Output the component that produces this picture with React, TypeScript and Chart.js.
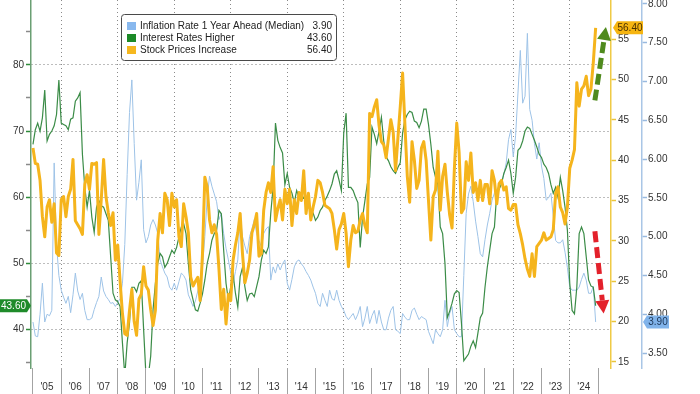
import React, { useEffect, useRef } from "react";
import { Chart, registerables } from "chart.js";

Chart.register(...registerables);

const START_YEAR = 2005;
const FONT = '"Liberation Sans", Arial, sans-serif';

const yearTicks = [2005, 2006, 2007, 2008, 2009, 2010, 2011, 2012, 2013, 2014, 2015, 2016, 2017, 2018, 2019, 2020, 2021, 2022, 2023, 2024, 2025];
const yearTickLabels = ["'05", "'06", "'07", "'08", "'09", "'10", "'11", "'12", "'13", "'14", "'15", "'16", "'17", "'18", "'19", "'20", "'21", "'22", "'23", "'24"];

const leftAxisTicks = [35, 40, 45, 50, 55, 60, 65, 70, 75, 80, 85];
const stockAxisTicks = [15, 20, 25, 30, 35, 40, 45, 50, 55];
const inflationAxisTicks = [3.5, 4, 4.5, 5, 5.5, 6, 6.5, 7, 7.5, 8];

// Monthly, Jan 2005 .. Dec 2024
const stockPricesIncrease = [
  41.5, 39.6, 39.5, 37.5, 33, 30.5, 34.2, 35.1, 32.3, 34.6, 28.5, 28.2,
  35.1, 35.5, 33, 35.5, 36.4, 40.1, 32.5, 32, 31.5, 30.8, 37, 38.2,
  36.4, 39.6, 39.5, 39.7, 30.8, 35.1, 40.1, 35.5, 33.5, 31.9, 33.5, 27.6,
  29.5, 25, 21, 18.5, 18.3, 21.4, 24, 20, 18.3, 22.8, 23.4, 26.8,
  24.4, 23.9, 21.5, 19.5, 21.4, 30.1, 33.4, 31, 35.9, 35.1, 31.9, 35.9,
  34.2, 35.1, 30.5, 29.3, 34.6, 33, 31, 25.5, 24.4, 25, 25.5, 22.6,
  28.4, 37.9, 36.7, 32.6, 31, 32, 30.8, 26.5, 21.5, 24, 19.7, 23.4,
  22.6, 27.6, 29.5, 31, 33.4, 28.4, 24.8, 26, 27.6, 31, 32, 33.4,
  28.1, 28.4, 33.8, 36, 37.2, 36, 39.2, 32.5, 34, 35.1, 32.6, 36.4,
  34.6, 36.4, 31.9, 35.1, 33.4, 36, 35, 38.7, 33.4, 35.9, 32.6, 34.2,
  35.5, 37.5, 37.2, 36, 34.4, 34.2, 34, 33.4, 31.4, 29, 31.4, 32.1,
  33.4, 31, 26.8, 30.1, 31.9, 31, 31.2, 32.6, 33.4, 31.9, 31, 45.8,
  45.4, 46.6, 47.5, 44.3, 42.3, 41.9, 40.3, 42.7, 45, 43.5, 38.7, 42.7,
  46.6, 50.8, 44.3, 38, 34.8, 42.3, 40, 36.5, 37.5, 41.5, 42.3, 40,
  35, 30.1, 35.5, 36.3, 41.1, 33.8, 38, 39.5, 36, 33.2, 31.6, 39,
  44.6, 41, 33.5, 34, 39.8, 37.5, 40.9, 36, 37.2, 35, 37.5, 35,
  37, 37, 34.6, 38.7, 37.5, 34.6, 37.1, 37.5, 36.3, 36.7, 34, 33.8,
  34.5, 34.5, 32, 30.9, 29.5, 27.8, 26.5, 25.6, 28.4, 25.6, 29.3, 29.7,
  30.1, 31, 30.1, 30.3, 30.5, 31.4, 35.9, 36.7, 34.2, 33.5, 32.1, 34.2,
  39, 40, 41.3, 49.6, 46.7, 48.8, 49.2, 50.4, 48, 48.8, 52.1, 56.4,
];

const interestRatesHigher = [
  68, 70.2, 71.2, 70, 72, 76.2, 68.5, 69.5, 70, 70.8, 72.5, 77.7,
  71.2, 71, 70.8, 70.2, 71.8, 72, 74.5, 75, 75.8, 66.5, 61.5, 58.5,
  61, 57, 54.7, 58.5, 59.5, 58.7, 58.5, 57.5, 56.5, 51, 45.5, 44.5,
  44.2, 43.5, 38, 33, 38, 41, 46.4, 46.4, 45.7, 47, 47.4, 40,
  33, 33, 36, 43, 47, 50, 51.5, 51, 49.4, 50, 51, 52,
  51.5, 52.4, 54, 55.5, 56, 54.5, 50, 46, 44.5, 43, 42.8, 44,
  45.4, 47.5, 50, 51.5, 53.5, 54.5, 55, 58, 57.5, 52, 47, 44.4,
  46.5, 48.4, 45.5, 43.4, 48, 49.4, 46.5, 44.4, 45.4, 45.5, 45, 46.5,
  48, 50.5, 52, 51.5, 52.5, 57.6, 61.5, 71.2, 68.6, 67.5, 66.7, 61.9,
  63.6, 61.5, 60.6, 59.2, 61, 60, 59.5, 60, 59.5, 58.5, 58, 57.6,
  56.5, 57, 58, 58.5, 59.5, 60.2, 61, 62, 63.5, 64, 62.6, 61,
  69.7, 72.7, 61.5, 61.5, 61, 60, 59.2, 52.4, 57, 59.5, 62, 63,
  70.6, 69.5, 68.1, 70, 72.1, 68.5, 66.1, 65.5, 64.6, 64, 63.6, 64.5,
  65.2, 69.7, 71.7, 72.5, 73, 72.8, 71.5, 71.3, 70.5, 71.5, 73.3, 73.3,
  71, 68, 64.5, 63, 61.9, 55.5, 54.5, 50, 41.8, 42.8, 44, 45.4,
  45.9, 45.6, 41, 35.3, 35.8, 36.3, 37.5, 38.3, 37.3, 39.5, 41.8, 42.5,
  46.4, 49.5, 52, 54.5, 55.5, 60.6, 61.2, 62, 63.6, 64.5, 65.6, 63.6,
  60.6, 63, 67.1, 67.5, 68.5, 70, 70.6, 70.4, 69.5, 68.6, 67.6, 66.5,
  66, 65, 64.5, 63.6, 61.9, 60.6, 61.5, 60, 63, 61, 58.5, 55,
  47, 42.9, 42.4, 46.4, 54.5, 55.5, 54.5, 51, 47.5, 46.6, 46.4, 43.6,
];

const inflationOneYearAhead = [
  3.9, 3.72, 3.71, 4.0, 4.4, 3.9, 4.0, 3.98, 4.05, 5.95, 4.9, 4.5,
  4.31, 4.22, 4.14, 4.23, 4.02, 4.25, 4.53, 4.3, 4.19, 4.27, 4.05, 3.93,
  3.93, 3.95, 4.06, 4.15, 4.23, 4.48, 4.3, 4.23, 4.19, 4.14, 4.15, 4.1,
  4.15, 4.2, 4.4, 4.9, 5.8, 6.6, 7.02, 6.2, 5.47, 5.7, 5.99, 5.09,
  4.92, 5.0, 5.15, 5.22, 5.15, 5.04, 4.7, 4.61, 4.53, 4.48, 4.35, 4.31,
  4.4, 4.31, 4.42, 4.53, 4.5, 4.44, 4.25, 4.18, 4.1, 4.17, 4.3, 4.45,
  4.61, 5.0, 5.5, 5.78, 5.65, 5.55, 5.45, 5.22, 5.3, 5.04, 4.85, 4.7,
  4.53, 4.4, 4.55, 4.7, 5.26, 5.0, 4.88, 4.78, 5.0, 5.1, 5.22, 5.04,
  4.95, 4.87, 5.04, 5.1, 5.13, 4.44, 4.61, 4.53, 4.65, 4.57, 4.65, 4.7,
  4.4, 4.31, 4.45, 4.61, 4.68, 4.7, 4.65, 4.61, 4.55, 4.5, 4.44, 4.35,
  4.27, 4.14, 4.1, 4.27, 4.18, 4.1, 4.31, 4.2, 4.18, 4.31, 4.18, 4.1,
  4.05, 3.97, 3.93, 3.97, 4.01, 3.93, 4.0, 4.1, 3.84, 3.95, 4.1, 3.88,
  3.98, 4.05, 3.88, 4.05, 3.9, 3.8, 3.8, 3.95, 4.05, 4.1, 3.8, 3.78,
  3.75, 4.01, 3.96, 3.93, 3.93, 4.05, 4.08, 4.0, 3.93, 3.97, 3.95, 3.93,
  3.78, 3.7, 3.62, 3.8, 3.75, 3.71, 3.8, 4.18, 3.84, 4.01, 4.1, 3.8,
  3.75, 3.71, 3.71, 4.5, 5.3, 5.55, 5.65, 5.45, 5.2, 5.0, 4.78, 4.74,
  4.96, 5.15, 5.3, 5.47, 5.56, 5.6, 5.65, 5.7, 5.8, 5.95, 6.25, 6.38,
  6.03, 6.3, 6.85, 7.4, 6.72, 6.81, 7.62, 6.64, 6.5, 6.2, 6.0, 6.21,
  5.91, 5.75, 5.47, 5.5, 5.56, 5.26, 4.95, 4.92, 4.92, 4.96, 4.8, 4.6,
  4.35, 4.31, 4.31, 4.31, 4.35, 4.45, 4.53, 4.44, 4.27, 4.27, 4.36, 3.9,
];

const seriesLabels = ["Inflation Rate 1 Year Ahead (Median)", "Interest Rates Higher", "Stock Prices Increase"];

const BLUE_LINE = "#9ec3e7";
const GREEN_LINE = "#3b8c47";
const ORANGE_LINE = "#f5b41c";

const toPoints = (vals: number[]) => vals.map((v, i) => ({ x: START_YEAR + i / 12, y: v }));
const last = (a: number[]) => a[a.length - 1];

function drawArrow(ctx: CanvasRenderingContext2D, bx: number, by: number, tx: number, ty: number, color: string) {
  const dx = tx - bx, dy = ty - by;
  const len = Math.hypot(dx, dy);
  const ux = dx / len, uy = dy / len;
  const head = 13, half = 7;
  const hx = tx - ux * head, hy = ty - uy * head;
  ctx.save();
  ctx.strokeStyle = color;
  ctx.lineWidth = 5;
  ctx.setLineDash([11, 5]);
  ctx.beginPath();
  ctx.moveTo(bx, by);
  ctx.lineTo(hx, hy);
  ctx.stroke();
  ctx.setLineDash([]);
  ctx.fillStyle = color;
  ctx.beginPath();
  ctx.moveTo(tx, ty);
  ctx.lineTo(hx - uy * half, hy + ux * half);
  ctx.lineTo(hx + uy * half, hy - ux * half);
  ctx.closePath();
  ctx.fill();
  ctx.restore();
}

function drawTag(ctx: CanvasRenderingContext2D, text: string, tipX: number, y: number, dir: "left" | "right", boxW: number, fill: string, color: string) {
  const h = 13, p = 4;
  ctx.save();
  ctx.fillStyle = fill;
  ctx.beginPath();
  if (dir === "left") {
    ctx.moveTo(tipX, y);
    ctx.lineTo(tipX + p, y - h / 2);
    ctx.lineTo(tipX + p + boxW, y - h / 2);
    ctx.lineTo(tipX + p + boxW, y + h / 2);
    ctx.lineTo(tipX + p, y + h / 2);
  } else {
    ctx.moveTo(tipX, y);
    ctx.lineTo(tipX - p, y - h / 2);
    ctx.lineTo(tipX - p - boxW, y - h / 2);
    ctx.lineTo(tipX - p - boxW, y + h / 2);
    ctx.lineTo(tipX - p, y + h / 2);
  }
  ctx.closePath();
  ctx.fill();
  ctx.fillStyle = color;
  ctx.font = `10px ${FONT}`;
  ctx.textAlign = "center";
  ctx.textBaseline = "middle";
  const cx = dir === "left" ? tipX + p + boxW / 2 : tipX - p - boxW / 2;
  ctx.fillText(text, cx, y + 0.5);
  ctx.restore();
}

const overlayPlugin = {
  id: "overlay",
  afterDraw(chart: any) {
    const ctx: CanvasRenderingContext2D = chart.ctx;
    const x = chart.scales.x;
    const yL = chart.scales.y;
    const yS = chart.scales.yStock;
    const yI = chart.scales.yInfl;

    // dashed arrows
    drawArrow(ctx, x.getPixelForValue(2024.89), yS.getPixelForValue(47.4), x.getPixelForValue(2025.28), yS.getPixelForValue(56.5), "#4f8a1d");
    drawArrow(ctx, x.getPixelForValue(2024.89), yS.getPixelForValue(31.2), x.getPixelForValue(2025.2), yS.getPixelForValue(21.0), "#e3212b");

    // last value tags
    drawTag(ctx, last(interestRatesHigher).toFixed(2), yL.right, yL.getPixelForValue(last(interestRatesHigher)), "right", 27, "#1f8b2a", "#ffffff");
    drawTag(ctx, last(stockPricesIncrease).toFixed(2), yS.left + 2, yS.getPixelForValue(last(stockPricesIncrease)), "left", 26, "#f6b511", "#4a3000");
    drawTag(ctx, last(inflationOneYearAhead).toFixed(2), yI.left + 1, yI.getPixelForValue(last(inflationOneYearAhead)), "left", 22, "#80b3ea", "#1b3556");

    // legend box
    const lx = 121.5, ly = 14.5, lw = 215, lh = 46, r = 3;
    ctx.save();
    ctx.fillStyle = "#ffffff";
    ctx.strokeStyle = "#4a4a4a";
    ctx.lineWidth = 1;
    ctx.beginPath();
    ctx.moveTo(lx + r, ly);
    ctx.lineTo(lx + lw - r, ly);
    ctx.quadraticCurveTo(lx + lw, ly, lx + lw, ly + r);
    ctx.lineTo(lx + lw, ly + lh - r);
    ctx.quadraticCurveTo(lx + lw, ly + lh, lx + lw - r, ly + lh);
    ctx.lineTo(lx + r, ly + lh);
    ctx.quadraticCurveTo(lx, ly + lh, lx, ly + lh - r);
    ctx.lineTo(lx, ly + r);
    ctx.quadraticCurveTo(lx, ly, lx + r, ly);
    ctx.closePath();
    ctx.fill();
    ctx.stroke();

    const swatches = ["#88b8ee", "#1c8a27", "#f6b81f"];
    const values = [last(inflationOneYearAhead), last(interestRatesHigher), last(stockPricesIncrease)];
    ctx.font = `10px ${FONT}`;
    ctx.textBaseline = "middle";
    for (let i = 0; i < 3; i++) {
      const cy = 26 + i * 12;
      ctx.fillStyle = swatches[i];
      ctx.fillRect(127, cy - 4, 9, 8);
      ctx.fillStyle = "#222222";
      ctx.textAlign = "left";
      ctx.fillText(seriesLabels[i], 140, cy);
      ctx.textAlign = "right";
      ctx.fillText(values[i].toFixed(2), 332, cy);
    }
    ctx.restore();
  },
};

const tickFont = { family: FONT, size: 10 };

export default function App() {
  const canvasRef = useRef<HTMLCanvasElement | null>(null);

  useEffect(() => {
    const canvas = canvasRef.current;
    if (!canvas) return;
    const chart = new Chart(canvas, {
      type: "line",
      data: {
        datasets: [
          {
            label: seriesLabels[0],
            data: toPoints(inflationOneYearAhead),
            yAxisID: "yInfl",
            borderColor: BLUE_LINE,
            borderWidth: 1,
            pointRadius: 0,
            tension: 0,
            order: 3,
          },
          {
            label: seriesLabels[1],
            data: toPoints(interestRatesHigher),
            yAxisID: "y",
            borderColor: GREEN_LINE,
            borderWidth: 1.2,
            pointRadius: 0,
            tension: 0,
            order: 2,
          },
          {
            label: seriesLabels[2],
            data: toPoints(stockPricesIncrease),
            yAxisID: "yStock",
            borderColor: ORANGE_LINE,
            borderWidth: 3,
            borderJoinStyle: "round",
            pointRadius: 0,
            tension: 0,
            order: 1,
          },
        ] as any,
      },
      options: {
        responsive: false,
        animation: false,
        devicePixelRatio: 1,
        layout: { padding: { top: 0, left: 0, right: 0, bottom: 0 } },
        plugins: { legend: { display: false }, tooltip: { enabled: false } },
        scales: {
          x: {
            type: "linear",
            position: "bottom",
            min: 2004.93,
            max: 2025.46,
            afterBuildTicks: (s: any) => {
              s.ticks = yearTicks.map((v) => ({ value: v }));
            },
            afterFit: (s: any) => {
              s.height = 26;
              s.paddingLeft = 0;
              s.paddingRight = 0;
            },
            ticks: {
              autoSkip: false,
              maxRotation: 0,
              minRotation: 0,
              labelOffset: 14,
              padding: -13,
              color: "#333333",
              font: tickFont,
              callback: (_v: any, i: number) => yearTickLabels[i] ?? "",
            },
            grid: {
              drawOnChartArea: true,
              drawTicks: true,
              tickLength: 26,
              tickColor: "#a3a3a3",
              tickWidth: 1,
              lineWidth: 1,
              color: (c: any) =>
                c.tick && c.tick.value % 2 === 0 && c.tick.value < 2025 ? "#8a8a8a" : "rgba(0,0,0,0)",
            },
            border: { display: false, dash: [1, 3] },
          },
          y: {
            type: "linear",
            position: "left",
            min: 34.2,
            max: 89.8,
            afterBuildTicks: (s: any) => {
              s.ticks = leftAxisTicks.map((v) => ({ value: v }));
            },
            afterFit: (s: any) => {
              s.width = 31;
              s.paddingTop = 0;
              s.paddingBottom = 0;
            },
            ticks: {
              padding: 2,
              color: "#333333",
              font: tickFont,
              callback: (v: any) => (v % 10 === 0 ? String(v) : ""),
            },
            grid: {
              drawOnChartArea: true,
              tickLength: 5,
              tickWidth: 1.5,
              lineWidth: 1,
              color: (c: any) => (c.tick && c.tick.value % 10 === 0 ? "#7a7a7a" : "rgba(0,0,0,0)"),
              tickColor: (c: any) => (c.tick && c.tick.value % 10 === 0 ? "#2e8b3a" : "#8a8a8a"),
            },
            border: { display: true, color: "#6a9f73", width: 1.5, dash: [1, 3] },
          },
          yStock: {
            type: "linear",
            position: "right",
            weight: 0,
            min: 14.25,
            max: 59.85,
            afterBuildTicks: (s: any) => {
              s.ticks = stockAxisTicks.map((v) => ({ value: v }));
            },
            afterFit: (s: any) => {
              s.width = 31;
              s.paddingTop = 0;
              s.paddingBottom = 0;
            },
            ticks: { padding: 2, color: "#333333", font: tickFont, callback: (v: any) => String(v) },
            grid: { drawOnChartArea: false, tickLength: 5, tickWidth: 1.5, tickColor: "#e9c43c" },
            border: { display: true, color: "#efca45", width: 1.5 },
          },
          yInfl: {
            type: "linear",
            position: "right",
            weight: 1,
            min: 3.307,
            max: 8.05,
            afterBuildTicks: (s: any) => {
              s.ticks = inflationAxisTicks.map((v) => ({ value: v }));
            },
            afterFit: (s: any) => {
              s.width = 58;
              s.paddingTop = 0;
              s.paddingBottom = 0;
            },
            ticks: { padding: 1, color: "#333333", font: tickFont, callback: (v: any) => Number(v).toFixed(2) },
            grid: { drawOnChartArea: false, tickLength: 5, tickWidth: 1.5, tickColor: "#98b9df" },
            border: { display: true, color: "#a9c6e6", width: 1.5 },
          },
        } as any,
      },
      plugins: [overlayPlugin],
    });
    return () => chart.destroy();
  }, []);

  return (
    <div style={{ position: "fixed", left: 0, top: 0, width: 700, height: 394, background: "#ffffff" }}>
      <canvas ref={canvasRef} width={700} height={394} style={{ display: "block" }} />
    </div>
  );
}
